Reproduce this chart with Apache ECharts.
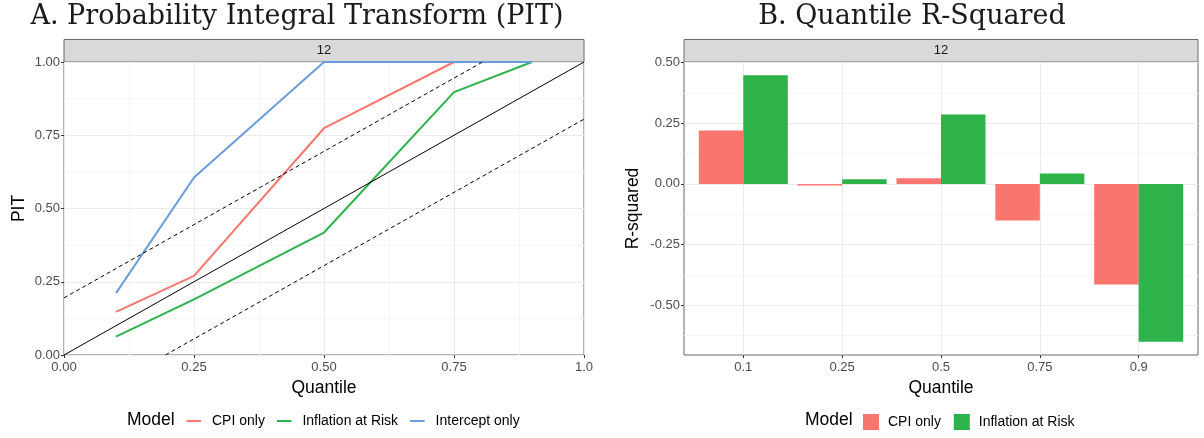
<!DOCTYPE html>
<html>
<head>
<meta charset="utf-8">
<script src="https://cdn.jsdelivr.net/npm/echarts@6/dist/echarts.min.js"></script>
<style>html,body{margin:0;padding:0;background:#fff}#c{width:1204px;height:438px}</style>
</head>
<body>
<div id="c"></div>
<script>
// ---- data ----
const quantiles = [0.1, 0.25, 0.5, 0.75, 0.9];
const quantileCats = ['0.1', '0.25', '0.5', '0.75', '0.9'];
const pitCPI = [0.147, 0.270, 0.774, 1.0, 1.0];
const pitIaR = [0.063, 0.190, 0.418, 0.897, 1.0];
const pitIntercept = [0.211, 0.606, 1.0, 1.0, 1.0];
const bandHalfWidth = 0.195;
const r2CPI = [0.220, -0.007, 0.023, -0.151, -0.415];
const r2IaR = [0.448, 0.019, 0.286, 0.043, -0.651];
const pitTickLabels = ['0.00', '0.25', '0.50', '0.75', '1.0'];
const pitYTickLabels = ['0.00', '0.25', '0.50', '0.75', '1.00'];
const r2Ticks = [-0.5, -0.25, 0, 0.25, 0.5];
const r2MinorTicks = [-0.625, -0.375, -0.125, 0.125, 0.375];
const seriesNames = ['CPI only', 'Inflation at Risk', 'Intercept only'];
const colors = { cpi: '#F8766D', iar: '#2DB34A', intercept: '#6A9BDA' };

// ---- layout ----
const L = { left: 64, right: 584, top: 62, bottom: 355 };
const R = { left: 684, right: 1198, top: 62, bottom: 355 };
const stripH = 22.5;
const border = '#6B6B6B';
const gridMajor = '#EBEBEB';
const gridMinor = '#F5F5F5';
const sans = 'Liberation Sans, Arial, sans-serif';
const tickLabel = { color: '#4D4D4D', fontSize: 13, fontFamily: sans };
const nameStyle = { color: '#000', fontSize: 17.5, fontFamily: sans };
const titleStyle = { fontFamily: 'DejaVu Serif, serif', fontWeight: 'normal', fontSize: 27, color: '#1a1a1a' };

const zip = (xs, ys) => xs.map((x, i) => [x, ys[i]]);
const r2Min = Math.min(...r2CPI, ...r2IaR), r2Max = Math.max(...r2CPI, ...r2IaR);
const r2Pad = 0.05 * (r2Max - r2Min);
const idx = quantileCats.map((_, i) => i);

const chart = echarts.init(document.getElementById('c'));
chart.setOption({
  animation: false,
  title: [
    { text: 'A. Probability Integral Transform (PIT)', left: 297, top: 3, padding: 0, textAlign: 'center', textStyle: titleStyle },
    { text: 'B. Quantile R-Squared', left: 912, top: 3, padding: 0, textAlign: 'center', textStyle: titleStyle }
  ],
  grid: [
    { left: L.left, top: L.top, width: L.right - L.left, height: L.bottom - L.top,
      show: true, borderColor: border, borderWidth: 1, backgroundColor: '#fff', containLabel: false },
    { left: R.left, top: R.top, width: R.right - R.left, height: R.bottom - R.top,
      show: true, borderColor: border, borderWidth: 1, backgroundColor: '#fff', containLabel: false }
  ],
  xAxis: [
    { gridIndex: 0, type: 'value', min: 0, max: 1, interval: 0.25,
      name: 'Quantile', nameLocation: 'middle', nameGap: 20, nameTextStyle: nameStyle,
      axisLine: { show: false, onZero: false },
      axisTick: { show: true, length: 3, lineStyle: { color: '#333' } },
      axisLabel: Object.assign({ margin: 6, formatter: (v) => pitTickLabels[Math.round(v / 0.25)] }, tickLabel),
      splitLine: { show: true, lineStyle: { color: gridMajor, width: 1 } },
      minorTick: { show: false, splitNumber: 2 },
      minorSplitLine: { show: true, lineStyle: { color: gridMinor, width: 1 } } },
    { gridIndex: 1, type: 'value', min: -0.6, max: idx.length - 1 + 0.6,
      name: 'Quantile', nameLocation: 'middle', nameGap: 20, nameTextStyle: nameStyle,
      axisLine: { show: false, onZero: false },
      axisTick: { show: true, length: 3, lineStyle: { color: '#333' }, customValues: idx },
      axisLabel: Object.assign({ margin: 6, customValues: idx, formatter: (v) => quantileCats[Math.round(v)] }, tickLabel),
      splitLine: { show: true, lineStyle: { color: gridMajor, width: 1 } } }
  ],
  yAxis: [
    { gridIndex: 0, type: 'value', min: 0, max: 1, interval: 0.25,
      name: 'PIT', nameLocation: 'middle', nameGap: 36, nameTextStyle: nameStyle,
      axisLine: { show: false, onZero: false },
      axisTick: { show: true, length: 3, lineStyle: { color: '#333' } },
      axisLabel: Object.assign({ margin: 4, formatter: (v) => pitYTickLabels[Math.round(v / 0.25)] }, tickLabel),
      splitLine: { show: true, lineStyle: { color: gridMajor, width: 1 } },
      minorTick: { show: false, splitNumber: 2 },
      minorSplitLine: { show: true, lineStyle: { color: gridMinor, width: 1 } } },
    { gridIndex: 1, type: 'value', min: r2Min - r2Pad, max: r2Max + r2Pad,
      name: 'R-squared', nameLocation: 'middle', nameGap: 42, nameTextStyle: nameStyle,
      axisLine: { show: false, onZero: false },
      axisTick: { show: true, length: 3, lineStyle: { color: '#333' }, customValues: r2Ticks },
      axisLabel: Object.assign({ margin: 4, customValues: r2Ticks, formatter: (v) => v.toFixed(2) }, tickLabel),
      splitLine: { show: true, lineStyle: { color: gridMajor, width: 1 } } },
    { gridIndex: 1, type: 'value', min: r2Min - r2Pad, max: r2Max + r2Pad, position: 'left',
      axisLine: { show: false, onZero: false },
      axisTick: { show: false, length: 0, lineStyle: { color: 'rgba(0,0,0,0)' }, customValues: r2MinorTicks },
      axisLabel: { show: false, customValues: r2MinorTicks },
      splitLine: { show: true, lineStyle: { color: gridMinor, width: 1 } } }
  ],
  legend: [
    { data: seriesNames, left: 186.5, top: 414, padding: 0, itemWidth: 14.5, itemHeight: 2, itemGap: 12, icon: 'rect',
      textStyle: { fontSize: 14, color: '#000', fontFamily: sans, padding: [0, 0, 0, 6] } },
    { data: ['CPI only ', 'Inflation at Risk '], left: 863, top: 414, padding: 0, itemWidth: 16, itemHeight: 16, itemGap: 9, icon: 'rect',
      textStyle: { fontSize: 14, color: '#000', fontFamily: sans, padding: [0, 0, 0, 4] } }
  ],
  graphic: [
    { type: 'rect', shape: { x: L.left, y: L.top - stripH, width: L.right - L.left, height: stripH },
      style: { fill: '#D9D9D9', stroke: border, lineWidth: 1 } },
    { type: 'text', x: (L.left + L.right) / 2, y: L.top - stripH / 2,
      style: { text: '12', fill: '#1A1A1A', fontSize: 13, fontFamily: sans, align: 'center', verticalAlign: 'middle' } },
    { type: 'rect', shape: { x: R.left, y: R.top - stripH, width: R.right - R.left, height: stripH },
      style: { fill: '#D9D9D9', stroke: border, lineWidth: 1 } },
    { type: 'text', x: (R.left + R.right) / 2, y: R.top - stripH / 2,
      style: { text: '12', fill: '#1A1A1A', fontSize: 13, fontFamily: sans, align: 'center', verticalAlign: 'middle' } },
    { type: 'text', x: 127, y: 420,
      style: { text: 'Model', fill: '#000', fontSize: 17.5, fontFamily: sans, align: 'left', verticalAlign: 'middle' } },
    { type: 'text', x: 805, y: 420,
      style: { text: 'Model', fill: '#000', fontSize: 17.5, fontFamily: sans, align: 'left', verticalAlign: 'middle' } }
  ],
  series: [
    { name: 'CPI only', type: 'line', xAxisIndex: 0, yAxisIndex: 0, data: zip(quantiles, pitCPI),
      symbol: 'none', lineStyle: { color: colors.cpi, width: 2 }, itemStyle: { color: colors.cpi }, z: 3 },
    { name: 'Inflation at Risk', type: 'line', xAxisIndex: 0, yAxisIndex: 0, data: zip(quantiles, pitIaR),
      symbol: 'none', lineStyle: { color: colors.iar, width: 2 }, itemStyle: { color: colors.iar }, z: 3 },
    { name: 'Intercept only', type: 'line', xAxisIndex: 0, yAxisIndex: 0, data: zip(quantiles, pitIntercept),
      symbol: 'none', lineStyle: { color: colors.intercept, width: 2 }, itemStyle: { color: colors.intercept }, z: 3 },
    { name: '45 degree', type: 'line', xAxisIndex: 0, yAxisIndex: 0, data: [[0, 0], [1, 1]],
      symbol: 'none', lineStyle: { color: '#000', width: 1 }, z: 4 },
    { name: 'upper band', type: 'line', xAxisIndex: 0, yAxisIndex: 0, data: [[0, bandHalfWidth], [1 - bandHalfWidth, 1]],
      symbol: 'none', lineStyle: { color: '#000', width: 1, type: [4, 3] }, z: 4 },
    { name: 'lower band', type: 'line', xAxisIndex: 0, yAxisIndex: 0, data: [[bandHalfWidth, 0], [1, 1 - bandHalfWidth]],
      symbol: 'none', lineStyle: { color: '#000', width: 1, type: [4, 3] }, z: 4 },
    { name: 'CPI only ', type: 'bar', xAxisIndex: 1, yAxisIndex: 1, data: zip(idx, r2CPI),
      barWidth: 44.5, barGap: '0%', itemStyle: { color: colors.cpi } },
    { name: 'Inflation at Risk ', type: 'bar', xAxisIndex: 1, yAxisIndex: 1, data: zip(idx, r2IaR),
      barWidth: 44.5, barGap: '0%', itemStyle: { color: colors.iar } }
  ]
});
</script>
</body>
</html>
